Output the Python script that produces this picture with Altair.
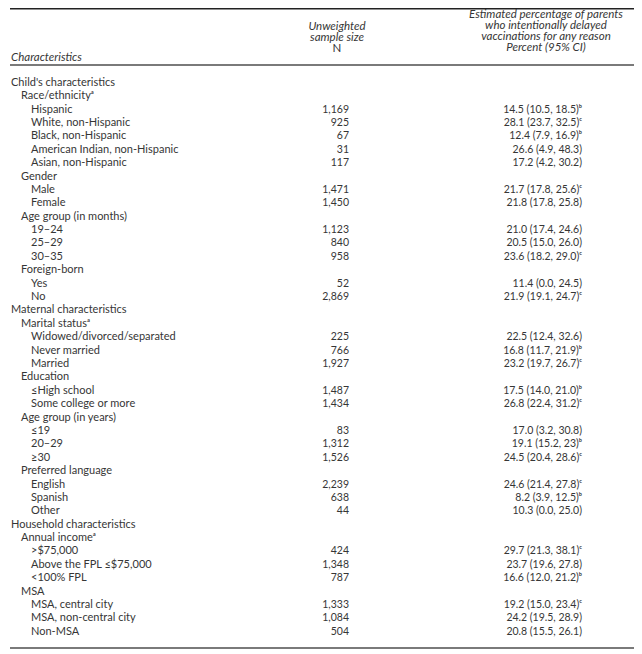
import altair as alt
import pandas as pd

# ---------------- data ----------------
labels = [
    "Child's characteristics", "Race/ethnicity", "Hispanic", "White, non-Hispanic",
    "Black, non-Hispanic", "American Indian, non-Hispanic", "Asian, non-Hispanic",
    "Gender", "Male", "Female", "Age group (in months)", "19–24", "25–29", "30–35",
    "Foreign-born", "Yes", "No", "Maternal characteristics", "Marital status",
    "Widowed/divorced/separated", "Never married", "Married", "Education",
    "≤High school", "Some college or more", "Age group (in years)", "≤19", "20–29",
    "≥30", "Preferred language", "English", "Spanish", "Other",
    "Household characteristics", "Annual income", ">$75,000",
    "Above the FPL ≤$75,000", "<100% FPL", "MSA", "MSA, central city",
    "MSA, non-central city", "Non-MSA",
]
levels = [0, 1, 2, 2, 2, 2, 2, 1, 2, 2, 1, 2, 2, 2, 1, 2, 2,
          0, 1, 2, 2, 2, 1, 2, 2, 1, 2, 2, 2, 1, 2, 2, 2,
          0, 1, 2, 2, 2, 1, 2, 2, 2]
label_notes = ["", "a", "", "", "", "", "", "", "", "", "", "", "", "", "", "", "",
               "", "a", "", "", "", "", "", "", "", "", "", "", "", "", "", "",
               "", "a", "", "", "", "", "", "", ""]
n_sample = [None, None, 1169, 925, 67, 31, 117, None, 1471, 1450, None, 1123, 840, 958,
            None, 52, 2869, None, None, 225, 766, 1927, None, 1487, 1434, None, 83, 1312,
            1526, None, 2239, 638, 44, None, None, 424, 1348, 787, None, 1333, 1084, 504]
pct_est = [None, None, "14.5", "28.1", "12.4", "26.6", "17.2", None, "21.7", "21.8", None,
           "21.0", "20.5", "23.6", None, "11.4", "21.9", None, None, "22.5", "16.8", "23.2",
           None, "17.5", "26.8", None, "17.0", "19.1", "24.5", None, "24.6", "8.2", "10.3",
           None, None, "29.7", "23.7", "16.6", None, "19.2", "24.2", "20.8"]
ci_low = [None, None, "10.5", "23.7", "7.9", "4.9", "4.2", None, "17.8", "17.8", None,
          "17.4", "15.0", "18.2", None, "0.0", "19.1", None, None, "12.4", "11.7", "19.7",
          None, "14.0", "22.4", None, "3.2", "15.2", "20.4", None, "21.4", "3.9", "0.0",
          None, None, "21.3", "19.6", "12.0", None, "15.0", "19.5", "15.5"]
ci_high = [None, None, "18.5", "32.5", "16.9", "48.3", "30.2", None, "25.6", "25.8", None,
           "24.6", "26.0", "29.0", None, "24.5", "24.7", None, None, "32.6", "21.9", "26.7",
           None, "21.0", "31.2", None, "30.8", "23", "28.6", None, "27.8", "12.5", "25.0",
           None, None, "38.1", "27.8", "21.2", None, "23.4", "28.9", "26.1"]
pct_notes = ["", "", "b", "c", "b", "", "", "", "c", "", "", "", "", "c", "", "", "c",
             "", "", "", "b", "c", "", "b", "c", "", "", "b", "c", "", "c", "b", "",
             "", "", "c", "", "b", "", "c", "", ""]

SUP = {"": "", "a": "\u1d43", "b": "\u1d47", "c": "\u1d9c"}

df = pd.DataFrame({
    "row": list(range(len(labels))),
    "label": labels,
    "level": levels,
    "n": n_sample,
    "est": pct_est,
    "lo": ci_low,
    "hi": ci_high,
})
df["label_text"] = [l + SUP[s] for l, s in zip(labels, label_notes)]

vals = df[df["n"].notna()].copy()
vals["val_text"] = [
    f"{e} ({a}, {b})" + SUP[s]
    for e, a, b, s in zip(vals["est"], vals["lo"], vals["hi"],
                          [pct_notes[i] for i in vals["row"]])
]

# ---------------- layout ----------------
W, H = 626, 642
FONT = "Lato, 'DejaVu Sans', sans-serif"
TXT = "#363636"
FS = 11          # row labels
FS_NUM = 10.5    # numeric columns
FS_HEAD = 11.5   # column headers
N_RIGHT = 341      # right edge of the N column (chart px)
P_RIGHT = 574      # right edge of the percent column
N_CENTER = 329
P_CENTER = 538

x_indent = alt.Scale(domain=[0, 2], range=[3, 23], zero=False, nice=False)
row0, step = 74.8, 13.39
y_scale = alt.Scale(domain=[-row0 / step, (H - row0) / step], range=[0, H],
                    zero=False, nice=False)

labels_layer = alt.Chart(df).mark_text(align="left", baseline="middle", font=FONT,
                                       fontSize=FS, color=TXT).encode(
    x=alt.X("level:Q", scale=x_indent, axis=None),
    y=alt.Y("row:Q", scale=y_scale, axis=None),
    text="label_text:N",
)
n_layer = alt.Chart(vals).mark_text(align="right", baseline="middle", font=FONT,
                                    fontSize=FS_NUM, color=TXT).encode(
    x=alt.value(N_RIGHT),
    y=alt.Y("row:Q", scale=y_scale, axis=None),
    text=alt.Text("n:Q", format=","),
)
p_layer = alt.Chart(vals).mark_text(align="right", baseline="middle", font=FONT,
                                    fontSize=FS_NUM, color=TXT).encode(
    x=alt.value(P_RIGHT),
    y=alt.Y("row:Q", scale=y_scale, axis=None),
    text="val_text:N",
)

one = pd.DataFrame({"k": [0]})


def head(txt, x, y, align="center", italic=True):
    kw = dict(align=align, baseline="middle", font=FONT, fontSize=FS_HEAD, color=TXT)
    if italic:
        kw["fontStyle"] = "italic"
    return alt.Chart(one).mark_text(**kw).encode(
        x=alt.value(x), y=alt.value(y), text=alt.value(txt))


headers = [
    head("Characteristics", 3, 50, align="left"),
    head("Unweighted", N_CENTER, 18.5),
    head("sample size", N_CENTER, 29.5),
    head("N", N_CENTER, 40.5, italic=False),
    head("Estimated percentage of parents", P_CENTER, 7),
    head("who intentionally delayed", P_CENTER, 18),
    head("vaccinations for any reason", P_CENTER, 29),
    head("Percent (95% CI)", P_CENTER, 40),
]


def rule(y, color, width):
    return alt.Chart(one).mark_rule(color=color, strokeWidth=width).encode(
        x=alt.value(2), x2=alt.value(W), y=alt.value(y))


rules = [rule(0.8, "#222222", 1.4), rule(57, "#7a7a7a", 2), rule(640, "#7a7a7a", 2)]

chart = alt.layer(*rules, *headers, labels_layer, n_layer, p_layer).properties(
    width=W, height=H, padding=0, autosize=alt.AutoSizeParams(type="none")
).configure_view(stroke=None)

chart.save("out.html", embed_options={"renderer": "svg", "actions": False})
